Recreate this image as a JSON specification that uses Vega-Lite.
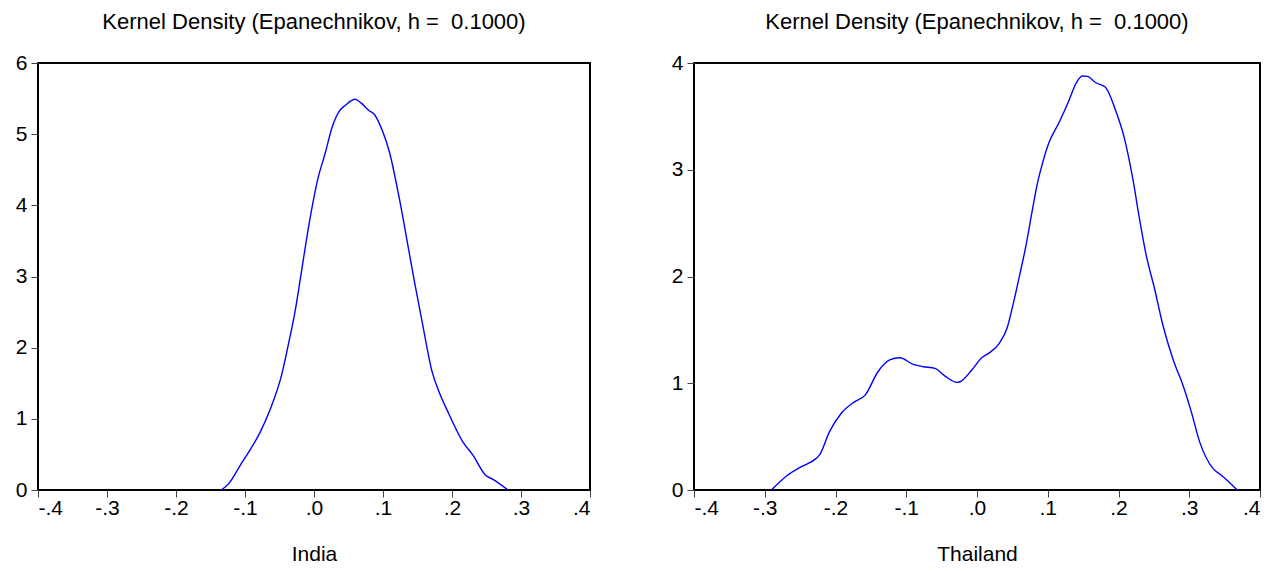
{
  "$schema": "https://vega.github.io/schema/vega-lite/v6.json",
  "background": "white",
  "padding": {"left": 14, "top": 10, "right": 5, "bottom": 0},
  "spacing": 78,
  "config": {
    "font": "Liberation Sans",
    "view": {"stroke": "black", "strokeWidth": 2},
    "title": {"fontSize": 22, "fontWeight": "normal", "color": "black", "font": "Liberation Sans", "offset": 18},
    "axis": {
      "grid": false,
      "domain": false,
      "tickColor": "#444",
      "tickSize": 7,
      "tickWidth": 1,
      "labelFontSize": 21,
      "labelColor": "black",
      "labelPadding": 4,
      "titleFontSize": 21,
      "titleFontWeight": "normal",
      "titleColor": "black",
      "titlePadding": 25
    },
    "axisX": {"labelPadding": 0}
  },
  "datasets": {
    "india": [
      {"x": -0.1343, "d": 0.0},
      {"x": -0.1236, "d": 0.09},
      {"x": -0.1067, "d": 0.35},
      {"x": -0.0945, "d": 0.535},
      {"x": -0.0776, "d": 0.82},
      {"x": -0.063, "d": 1.145},
      {"x": -0.047, "d": 1.615},
      {"x": -0.0364, "d": 2.08},
      {"x": -0.0267, "d": 2.55},
      {"x": -0.0204, "d": 2.93},
      {"x": -0.0073, "d": 3.73},
      {"x": 0.0048, "d": 4.34},
      {"x": 0.017, "d": 4.76},
      {"x": 0.026, "d": 5.09},
      {"x": 0.0364, "d": 5.32},
      {"x": 0.046, "d": 5.41},
      {"x": 0.0596, "d": 5.49},
      {"x": 0.068, "d": 5.44},
      {"x": 0.08, "d": 5.33},
      {"x": 0.0873, "d": 5.28},
      {"x": 0.0994, "d": 5.04},
      {"x": 0.109, "d": 4.76},
      {"x": 0.1236, "d": 4.1},
      {"x": 0.1333, "d": 3.59},
      {"x": 0.1455, "d": 2.93},
      {"x": 0.1566, "d": 2.37},
      {"x": 0.1712, "d": 1.66},
      {"x": 0.182, "d": 1.36},
      {"x": 0.194, "d": 1.1},
      {"x": 0.2157, "d": 0.676},
      {"x": 0.2303, "d": 0.49},
      {"x": 0.2487, "d": 0.207},
      {"x": 0.2594, "d": 0.15},
      {"x": 0.2812, "d": 0.0}
    ],
    "thailand": [
      {"x": -0.2906, "d": 0.0},
      {"x": -0.2679, "d": 0.138},
      {"x": -0.249, "d": 0.216},
      {"x": -0.2277, "d": 0.294},
      {"x": -0.2228, "d": 0.326},
      {"x": -0.2086, "d": 0.545},
      {"x": -0.1921, "d": 0.717},
      {"x": -0.1732, "d": 0.826},
      {"x": -0.1581, "d": 0.889},
      {"x": -0.14, "d": 1.108},
      {"x": -0.1234, "d": 1.218},
      {"x": -0.1091, "d": 1.239},
      {"x": -0.0902, "d": 1.177},
      {"x": -0.076, "d": 1.155},
      {"x": -0.0594, "d": 1.139},
      {"x": -0.0452, "d": 1.067},
      {"x": -0.0286, "d": 1.008},
      {"x": -0.0239, "d": 1.014},
      {"x": -0.0074, "d": 1.124},
      {"x": 0.0068, "d": 1.239},
      {"x": 0.0163, "d": 1.28},
      {"x": 0.0315, "d": 1.374},
      {"x": 0.0424, "d": 1.515},
      {"x": 0.0519, "d": 1.765},
      {"x": 0.0614, "d": 2.047},
      {"x": 0.0685, "d": 2.266},
      {"x": 0.0779, "d": 2.61},
      {"x": 0.085, "d": 2.861},
      {"x": 0.0921, "d": 3.049},
      {"x": 0.1016, "d": 3.252},
      {"x": 0.1158, "d": 3.44},
      {"x": 0.1276, "d": 3.612},
      {"x": 0.1418, "d": 3.831},
      {"x": 0.1489, "d": 3.878},
      {"x": 0.156, "d": 3.875},
      {"x": 0.1679, "d": 3.815},
      {"x": 0.1812, "d": 3.775},
      {"x": 0.1963, "d": 3.549},
      {"x": 0.2082, "d": 3.299},
      {"x": 0.22, "d": 2.923},
      {"x": 0.2295, "d": 2.547},
      {"x": 0.239, "d": 2.204},
      {"x": 0.2508, "d": 1.89},
      {"x": 0.2627, "d": 1.546},
      {"x": 0.2769, "d": 1.228},
      {"x": 0.291, "d": 0.983},
      {"x": 0.3029, "d": 0.732},
      {"x": 0.3147, "d": 0.451},
      {"x": 0.3337, "d": 0.2},
      {"x": 0.3455, "d": 0.138},
      {"x": 0.3677, "d": 0.0}
    ]
  },
  "hconcat": [
    {
      "title": "Kernel Density (Epanechnikov, h =\u00a0\u00a00.1000)",
      "width": 552,
      "height": 427,
      "data": {"name": "india"},
      "mark": {"type": "line", "color": "#0000FF", "strokeWidth": 1.4, "interpolate": "monotone", "clip": true},
      "encoding": {
        "x": {"field": "x", "type": "quantitative", "title": "India",
          "scale": {"domain": [-0.4, 0.4], "nice": false, "zero": false},
          "axis": {"values": [-0.4, -0.3, -0.2, -0.1, 0, 0.1, 0.2, 0.3, 0.4], "labelExpr": "(datum.value < -0.001 ? '-' : '') + replace(format(abs(datum.value), '.1f'), '0.', '.')"}},
        "y": {"field": "d", "type": "quantitative", "title": null,
          "scale": {"domain": [0, 6], "nice": false},
          "axis": {"values": [0, 1, 2, 3, 4, 5, 6]}}
      }
    },
    {
      "title": "Kernel Density (Epanechnikov, h =\u00a0\u00a00.1000)",
      "width": 566,
      "height": 427,
      "data": {"name": "thailand"},
      "mark": {"type": "line", "color": "#0000FF", "strokeWidth": 1.4, "interpolate": "monotone", "clip": true},
      "encoding": {
        "x": {"field": "x", "type": "quantitative", "title": "Thailand",
          "scale": {"domain": [-0.4, 0.4], "nice": false, "zero": false},
          "axis": {"values": [-0.4, -0.3, -0.2, -0.1, 0, 0.1, 0.2, 0.3, 0.4], "labelExpr": "(datum.value < -0.001 ? '-' : '') + replace(format(abs(datum.value), '.1f'), '0.', '.')"}},
        "y": {"field": "d", "type": "quantitative", "title": null,
          "scale": {"domain": [0, 4], "nice": false},
          "axis": {"values": [0, 1, 2, 3, 4]}}
      }
    }
  ]
}
